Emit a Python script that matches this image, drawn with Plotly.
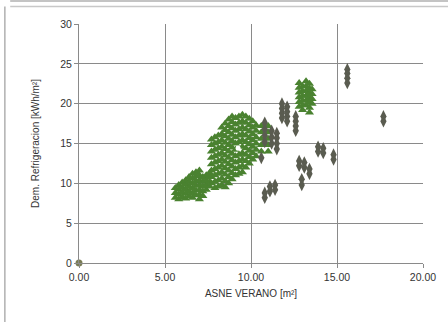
import plotly.graph_objects as go

# Summer solar gain area vs. cooling demand, one marker per simulated case
# Columns of cases: (ASNE value, list of cooling demands)
green_cols = [
    (5.6, [8.2, 8.8, 9.4]),
    (5.8, [8.0, 8.6, 9.2, 9.8]),
    (6.0, [8.3, 8.9, 9.5, 10.1]),
    (6.2, [8.1, 8.7, 9.3, 9.9, 10.4]),
    (6.4, [8.4, 9.0, 9.6, 10.2, 10.8]),
    (6.6, [8.2, 8.8, 9.4, 10.0, 10.6, 11.2]),
    (6.8, [8.5, 9.1, 9.7, 10.3, 10.9, 11.4]),
    (7.0, [8.0, 8.6, 9.2, 9.8, 10.4, 11.0, 11.6]),
    (7.2, [8.4, 9.0, 9.6, 10.2, 10.8]),
    (7.4, [9.2, 9.8, 10.4, 11.0]),
    (7.6, [9.6, 10.2, 10.8, 11.3]),
    (7.7, [10.0, 10.8, 11.6, 12.4, 13.2, 14.0, 14.8, 15.5]),
    (7.9, [9.4, 10.2, 11.0, 11.8, 12.6, 13.4, 14.2, 15.0, 15.8]),
    (8.1, [9.6, 10.4, 11.2, 12.0, 12.8, 13.6, 14.4, 15.2, 16.0]),
    (8.3, [9.8, 10.6, 11.4, 12.2, 13.0, 13.8, 14.6, 15.4, 16.2, 17.0]),
    (8.5, [9.5, 10.3, 11.1, 11.9, 12.7, 13.5, 14.3, 15.1, 15.9, 16.7, 17.5]),
    (8.7, [10.0, 10.8, 11.6, 12.4, 13.2, 14.0, 14.8, 15.6, 16.4, 17.2, 18.0]),
    (8.9, [10.5, 11.3, 12.1, 12.9, 13.7, 14.5, 15.3, 16.1, 16.9, 17.7, 18.4]),
    (9.1, [11.0, 11.8, 12.6, 13.4, 14.2, 15.0, 15.8, 16.6, 17.4, 18.2]),
    (9.3, [11.2, 12.0, 12.8, 13.6, 15.2, 16.0, 16.8, 17.6, 18.4]),
    (9.5, [11.4, 12.2, 13.0, 13.8, 14.6, 15.4, 16.2, 17.0, 17.8, 18.6]),
    (9.7, [12.0, 12.8, 13.6, 14.4, 15.2, 16.0, 16.8, 17.6, 18.4]),
    (9.9, [12.5, 13.3, 14.1, 14.9, 15.7, 16.5, 17.3, 18.1]),
    (10.1, [13.0, 13.8, 14.6, 15.4, 16.2, 17.0, 17.8]),
    (10.3, [13.4, 14.2, 15.0, 15.8, 16.6, 17.3]),
    (10.6, [14.0, 14.8, 15.6, 16.4, 17.2]),
    (11.0, [14.0, 14.8, 15.6, 16.4, 17.2]),
    (12.8, [19.6, 20.2, 20.8, 21.4, 22.0, 22.6]),
    (13.0, [19.2, 19.8, 20.4, 21.0, 21.6, 22.2]),
    (13.2, [19.8, 20.4, 21.0, 21.6, 22.2, 22.8]),
    (13.4, [18.9, 19.5, 20.1, 20.7, 21.3, 21.9, 22.5]),
    (13.55, [20.0, 20.6, 21.2, 21.8]),
]

gray_cols = [
    (10.6, [13.2]),
    (10.8, [15.2, 16.0, 16.8, 17.6]),
    (11.2, [15.0, 15.8, 16.6]),
    (11.5, [14.3, 15.0, 15.7, 16.3]),
    (11.8, [18.2, 18.8, 19.4, 20.0]),
    (12.1, [17.8, 18.4, 19.0, 19.6]),
    (12.6, [16.6, 17.2, 17.8, 18.4]),
    (13.9, [14.0, 14.6]),
    (14.2, [13.8, 14.4]),
    (14.8, [13.0, 13.6]),
    (12.8, [12.2, 12.8]),
    (13.1, [12.0, 12.6]),
    (13.4, [11.2, 11.8]),
    (12.95, [9.8, 10.5]),
    (10.8, [8.2, 8.8]),
    (11.1, [9.0, 9.6]),
    (11.4, [9.2, 9.8]),
    (15.6, [22.6, 23.2, 23.8, 24.3]),
    (17.7, [17.8, 18.4]),
]

origin_x = [0.0]
origin_y = [0.0]

highlight_x = [9.25]
highlight_y = [14.4]

x_ticks = [0, 5, 10, 15, 20]
x_tick_labels = ["0.00", "5.00", "10.00", "15.00", "20.00"]
y_ticks = [0, 5, 10, 15, 20, 25, 30]


def expand(cols):
    xs, ys = [], []
    for x, col in cols:
        for y in col:
            xs.append(x)
            ys.append(y)
    return xs, ys


green_x, green_y = expand(green_cols)
gray_x, gray_y = expand(gray_cols)

fig = go.Figure()
fig.add_trace(go.Scatter(
    x=green_x, y=green_y, mode="markers",
    marker=dict(symbol="triangle-up", size=8, color="#4a8230",
                line=dict(width=0)),
    showlegend=False))
fig.add_trace(go.Scatter(
    x=gray_x, y=gray_y, mode="markers",
    marker=dict(symbol="diamond-tall", size=9, color="#5a5c50",
                line=dict(width=0)),
    showlegend=False))
fig.add_trace(go.Scatter(
    x=highlight_x, y=highlight_y, mode="markers",
    marker=dict(symbol="circle", size=5, color="#ffffff"),
    showlegend=False))
fig.add_trace(go.Scatter(
    x=origin_x, y=origin_y, mode="markers",
    marker=dict(symbol="circle", size=7, color="#7a7d55"),
    showlegend=False, cliponaxis=False))

tick_font = dict(family="Liberation Sans", size=10.5, color="#333333")
title_font = dict(family="Liberation Sans", size=10, color="#333333")
grid = "#8a8a8a"

fig.update_layout(
    width=448, height=322,
    margin=dict(l=79, r=21, t=24, b=59),
    paper_bgcolor="#ffffff",
    plot_bgcolor="#ffffff",
    font=tick_font,
    xaxis=dict(
        range=[0, 20], tickvals=x_ticks, ticktext=x_tick_labels,
        showgrid=True, gridcolor=grid, gridwidth=1,
        showline=True, linecolor=grid, linewidth=1, mirror=False,
        ticks="outside", ticklen=4, tickcolor=grid,
        zeroline=False, tickfont=tick_font,
        title=dict(text="ASNE VERANO [m²]", font=title_font, standoff=8),
    ),
    yaxis=dict(
        range=[0, 30], tickvals=y_ticks,
        showgrid=True, gridcolor=grid, gridwidth=1,
        showline=True, linecolor=grid, linewidth=1,
        ticks="outside", ticklen=4, tickcolor=grid,
        zeroline=False, tickfont=tick_font,
        title=dict(text="Dem. Refrigeracion [kWh/m²]", font=title_font, standoff=18),
    ),
    shapes=[
        dict(type="line", xref="paper", yref="paper", x0=-0.2, x1=1.1,
             y0=1 + 23 / 239, y1=1 + 23 / 239, line=dict(color="#b0b0b0", width=1.5)),
        dict(type="line", xref="paper", yref="paper", x0=-0.2, x1=1.1,
             y0=1 + 17.5 / 239, y1=1 + 17.5 / 239, line=dict(color="#c8c8c8", width=1.5)),
        dict(type="line", xref="paper", yref="paper", x0=-75 / 348, x1=-75 / 348,
             y0=-0.3, y1=1 + 17.5 / 239, line=dict(color="#b0b0b0", width=1.5)),
    ],
)

fig.write_html("out.html")
